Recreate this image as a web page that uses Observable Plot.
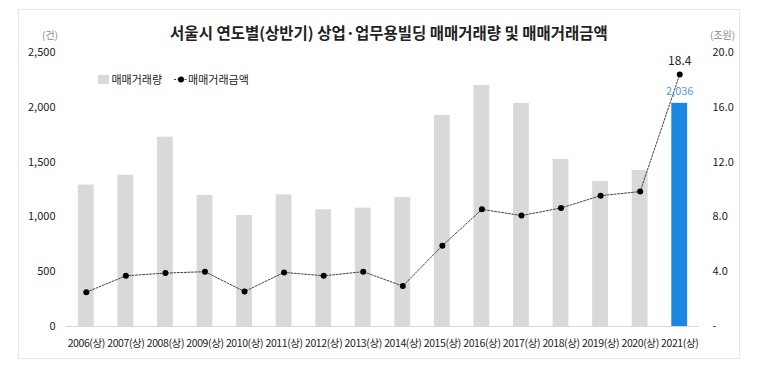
<!DOCTYPE html>
<html>
<head>
<meta charset="utf-8">
<script src="https://cdn.jsdelivr.net/npm/d3@7"></script>
<script src="https://cdn.jsdelivr.net/npm/@observablehq/plot@0.6"></script>
<style>
  body { margin: 0; background: #fff; font-family: "Noto Sans CJK KR", "Noto Sans", sans-serif; }
  #wrap { position: relative; width: 758px; height: 365px; overflow: hidden; }
  #frame { position: absolute; left: 18px; top: 9px; width: 722px; height: 350px; border: 1px solid #e8e8e8; box-sizing: border-box; }
  #title { position: absolute; left: 0; width: 778px; top: 21px; line-height: 22px; text-align: center; font-size: 15.5px; font-weight: bold; color: #222; }
  .unit { position: absolute; font-size: 10px; line-height: 11px; color: #888; top: 29px; }
  #legend { position: absolute; left: 98px; top: 72px; line-height: 14px; font-size: 11px; color: #222; display: flex; align-items: center; }
  #legend span { display: inline-flex; align-items: center; }
  #chart { position: absolute; left: 0; top: 0; }
  #chart g[aria-label="x-axis tick label"] text { letter-spacing: -0.4px; }
</style>
</head>
<body>
<div id="wrap">
  <div id="frame"></div>
  <div id="chart"></div>
  <div id="title">서울시 연도별(상반기) 상업·업무용빌딩 매매거래량 및 매매거래금액</div>
  <div class="unit" style="left:42px">(건)</div>
  <div class="unit" style="left:710px">(조원)</div>
  <div id="legend">
    <span><svg width="11" height="9"><rect width="11" height="9" fill="#d9d9d9"/></svg>&nbsp;매매거래량</span>
    <span style="margin-left:12px"><svg width="14" height="9"><line x1="0" x2="14" y1="4.5" y2="4.5" stroke="#444" stroke-dasharray="2,1.5"/><circle cx="7" cy="4.5" r="3" fill="#000"/></svg>매매거래금액</span>
  </div>
</div>
<script>
const years = ["2006(상)","2007(상)","2008(상)","2009(상)","2010(상)","2011(상)","2012(상)","2013(상)","2014(상)","2015(상)","2016(상)","2017(상)","2018(상)","2019(상)","2020(상)","2021(상)"];
const counts = [1290, 1380, 1727, 1195, 1013, 1201, 1065, 1080, 1177, 1925, 2199, 2035, 1524, 1323, 1423, 2036];
const amounts = [2.5, 3.7, 3.9, 4.0, 2.55, 3.95, 3.7, 4.0, 2.95, 5.9, 8.55, 8.1, 8.65, 9.55, 9.85, 18.4];
const leftTicks = [0, 500, 1000, 1500, 2000, 2500];
const rightTicks = [0, 4, 8, 12, 16, 20];

const ratio = 2500 / 20;
const data = years.map((y, i) => ({year: y, count: counts[i], amount: amounts[i], amountScaled: amounts[i] * ratio, last: i === years.length - 1}));
const lastRow = data.filter(d => d.last);

const chart = Plot.plot({
  width: 758,
  height: 365,
  marginLeft: 66,
  marginRight: 59,
  marginTop: 52,
  marginBottom: 39,
  style: {fontFamily: '"Noto Sans CJK KR", "Noto Sans", sans-serif', fontSize: "11px", color: "#333", background: "transparent"},
  x: {domain: years, paddingInner: 0.6, paddingOuter: 0.3, round: false, label: null},
  y: {domain: [0, 2500], label: null},
  marks: [
    Plot.barY(data, {x: "year", y: "count", fill: d => d.last ? "#1a88e3" : "#d9d9d9"}),
    Plot.ruleY([0], {stroke: "#d9d9d9"}),
    Plot.line(data, {x: "year", y: "amountScaled", stroke: "#444", strokeWidth: 1, strokeDasharray: "2,1.5"}),
    Plot.dot(data, {x: "year", y: "amountScaled", r: 3, fill: "#000"}),
    Plot.text(lastRow, {x: "year", y: "amountScaled", text: d => d.amount.toFixed(1), dy: -13, fontSize: 12, fill: "#222"}),
    Plot.text(lastRow, {x: "year", y: "count", text: d => d3.format(",")(d.count), dy: -12, fontSize: 11, fill: "#4a9fe0"}),
    Plot.axisX({tickSize: 0, tickPadding: 13, fontSize: 10.5, fill: "#222", label: null}),
    Plot.axisY(leftTicks, {anchor: "left", tickSize: 0, tickPadding: 11, tickFormat: d3.format(","), fill: "#222", label: null}),
    Plot.axisY(rightTicks.map(t => t * ratio), {anchor: "right", tickSize: 0, tickPadding: 13, tickFormat: d => d === 0 ? "-" : (d / ratio).toFixed(1), fill: "#222", label: null})
  ]
});
document.getElementById("chart").appendChild(chart);
</script>
</body>
</html>
